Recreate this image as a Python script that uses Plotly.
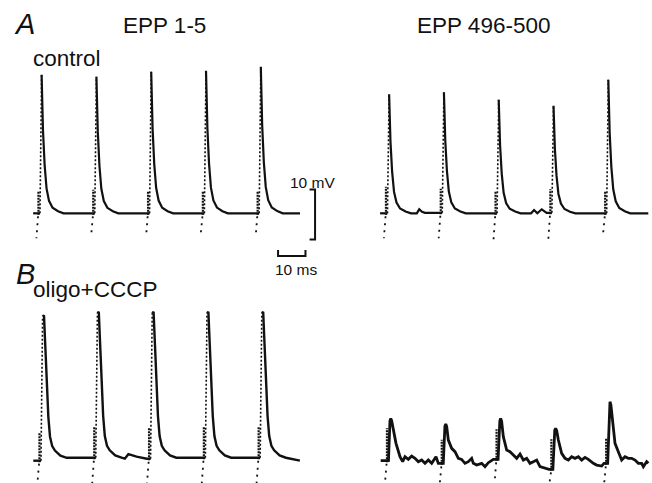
import plotly.graph_objects as go

# ---------------- data (time in ms, voltage in mV relative to rest) ----------------
STIM_MS = [0, 20, 40, 60, 80]
RISE_START_MS = 0.9

# EPP waveform: ms after stimulus, fraction of peak
DECAY_T_CONTROL = [1.5, 2.0, 2.6, 3.3, 4.2, 5.5, 7.5, 9.5]
DECAY_F_CONTROL = [1.0, 0.60, 0.35, 0.18, 0.09, 0.04, 0.015, 0.0]
DECAY_T_OLIGO = [1.5, 2.0, 2.5, 3.0, 3.6, 4.2, 5.0, 6.0, 8.0, 10.3]
DECAY_F_OLIGO = [0.99, 1.0, 0.78, 0.53, 0.30, 0.165, 0.10, 0.07, 0.035, 0.02]

CONTROL_1_5_PEAK = [27.7, 27.3, 28.3, 28.5, 29.3]
CONTROL_496_500_PEAK = [23.8, 24.2, 22.7, 21.5, 26.7]
OLIGO_1_5_PEAK = [29.1, 29.8, 29.8, 29.8, 29.8]

CONTROL_1_5_ART_UP = [4.3, 4.7, 4.3, 4.3, 4.3]
CONTROL_1_5_ART_DOWN = [-5.0, -4.3, -4.8, -4.0, -4.8]
CONTROL_496_500_ART_UP = [5.3, 4.8, 4.5, 4.7, 4.3]
CONTROL_496_500_ART_DOWN = [-5.0, -5.0, -5.3, -5.3, -4.0]
OLIGO_1_5_ART_UP = [5.6, 6.3, 6.1, 6.1, 6.1]
OLIGO_1_5_ART_DOWN = [-4.5, -4.5, -4.5, -4.5, -4.5]
OLIGO_496_500_ART_UP = [6.5, 4.7, 6.0, 6.0, 5.1]
OLIGO_496_500_ART_DOWN = [-4.5, -4.5, -4.5, -4.5, -4.5]

# spontaneous events / baseline deflections
CONTROL_496_500_EXTRA_T = [11.6, 12.5, 13.5, 14.6, 53.3, 54.4, 55.6, 57.2, 59.0]
CONTROL_496_500_EXTRA_V = [0.0, 0.8, 0.3, 0.1, 0.0, 0.66, 0.0, 0.8, 0.1]
OLIGO_1_5_EXTRA_T = [31.5, 32.8, 35.8, 39.5]
OLIGO_1_5_EXTRA_V = [0.4, 1.3, 0.8, 0.4]

# EPP 496-500 in oligo+CCCP, read point by point
OLIGO_LATE_PRE_T = [-1.95, -0.36]
OLIGO_LATE_PRE_V = [0.2, 0.2]
OLIGO_LATE_1_T = [1.45, 1.75, 2.1, 2.68, 3.65, 5.11, 6.08, 6.93, 8.15, 9.37, 10.58, 11.8, 13.02, 14.23, 15.45, 16.67, 18.25, 19.1]
OLIGO_LATE_1_V = [8.2, 8.67, 8.1, 6.33, 3.67, 1.0, 0.0, 1.0, 0.47, 1.13, 0.67, 0.0, 0.33, -0.33, 0.33, -0.33, 1.0, -0.33]
OLIGO_LATE_2_T = [21.5, 21.8, 22.15, 22.75, 23.97, 25.18, 26.4, 27.6, 28.83, 30.05, 31.27, 31.87, 33.09, 34.92, 36.13, 37.35, 39.17]
OLIGO_LATE_2_V = [7.1, 7.53, 7.0, 4.33, 2.67, 2.0, 0.67, 0.47, -0.33, 0.0, 0.67, -0.33, -0.67, -0.33, -1.0, -0.2, 0.47]
OLIGO_LATE_3_T = [41.55, 41.85, 42.2, 42.82, 44.04, 45.26, 46.47, 47.69, 48.91, 50.12, 51.34, 52.55, 53.77, 54.99, 56.2, 58.03, 59.49]
OLIGO_LATE_3_V = [8.2, 8.67, 8.1, 5.0, 2.33, 2.0, 1.33, 0.67, 1.53, 0.33, 0.67, -0.33, 0.0, 0.33, -1.0, -1.33, -1.53]
OLIGO_LATE_4_T = [61.6, 61.92, 62.3, 62.9, 64.11, 65.33, 66.54, 67.76, 68.98, 70.19, 71.41, 72.63, 73.84, 75.67, 76.89, 78.71, 79.56]
OLIGO_LATE_4_V = [6.3, 6.67, 6.2, 4.33, 1.67, 0.67, 0.33, 1.0, 0.67, 1.0, 0.33, 0.87, 0.47, -0.33, -0.67, -0.87, -0.33]
OLIGO_LATE_5_T = [81.45, 81.75, 82.1, 82.73, 83.58, 84.79, 86.01, 87.23, 88.44, 89.66, 90.88, 92.09, 93.31, 93.92, 95.13, 95.74]
OLIGO_LATE_5_V = [11.4, 12.0, 11.3, 7.67, 3.67, 2.0, 0.33, 1.0, 0.67, 0.67, 0.33, -0.33, -0.33, -1.0, 0.0, -0.33]

TRACE_START_MS = [-1.6, -1.8, -1.9, -1.95]
TRACE_END_MS = [95.8, 96.1, 95.4, 95.74]

SCALE_MV = 10
SCALE_MS = 10

# ---------------- layout constants (pixels) ----------------
W, H = 652, 483
PX_PER_MS = 2.74
PX_PER_MV = 5.0
# pixel position of (first stimulus, resting level) for each panel
ORIGINS = [(37.5, 213.3), (385.0, 213.3), (38.5, 460.7), (386.0, 461.7)]
FONT = "Liberation Sans, Arial, sans-serif"


def templ_segments(peaks, dec_t, dec_f, t0, t1, ex_t=(), ex_v=()):
    segs = []
    pre = [(t0, 0.0)] + [(t, v) for t, v in zip(ex_t, ex_v) if t < STIM_MS[0]]
    segs.append(pre)
    for i, s in enumerate(STIM_MS):
        nxt = STIM_MS[i + 1] if i + 1 < len(STIM_MS) else t1 + 1
        pts = [(s + a, peaks[i] * f) for a, f in zip(dec_t, dec_f)]
        pts += [(t, v) for t, v in zip(ex_t, ex_v) if s < t < nxt]
        pts.sort()
        if i == len(STIM_MS) - 1:
            pts.append((t1, 0.0))
        segs.append(pts)
    return segs


def explicit_segments(pairs):
    return [list(zip(t, v)) for t, v in pairs]


def add_panel(fig, k, segs, art_up, art_down, dotted_rise, lw):
    xa = "x" if k == 1 else f"x{k}"
    ya = "y" if k == 1 else f"y{k}"
    sx, sy, rx, ry, bx, by, dx, dy = [], [], [], [], [], [], [], []
    for i, s in enumerate(STIM_MS):
        prev = segs[i]
        lv = prev[-1][1]
        sx += [p[0] for p in prev] + [s + RISE_START_MS]
        sy += [p[1] for p in prev] + [lv]
        nxt = segs[i + 1][0]
        if dotted_rise:
            sx.append(None); sy.append(None)
            rx += [s + RISE_START_MS, nxt[0], None]
            ry += [lv, nxt[1], None]
        bx += [s + 0.35, s + 0.35, None]
        by += [lv - 0.3, lv + art_up[i], None]
        dx += [s + 0.2, s - 0.4, None]
        dy += [lv - 0.6, art_down[i], None]
    last = segs[-1]
    sx += [p[0] for p in last]
    sy += [p[1] for p in last]
    black = "#111111"
    fig.add_trace(go.Scatter(x=sx, y=sy, mode="lines", xaxis=xa, yaxis=ya,
                             line=dict(color=black, width=lw), hoverinfo="skip"))
    if dotted_rise:
        fig.add_trace(go.Scatter(x=rx, y=ry, mode="lines", xaxis=xa, yaxis=ya,
                                 line=dict(color=black, width=1.6, dash="2px,2px"), hoverinfo="skip"))
    fig.add_trace(go.Scatter(x=bx, y=by, mode="lines", xaxis=xa, yaxis=ya,
                             line=dict(color=black, width=2.2, dash="2px,1px"), hoverinfo="skip"))
    fig.add_trace(go.Scatter(x=dx, y=dy, mode="lines", xaxis=xa, yaxis=ya,
                             line=dict(color=black, width=1.8, dash="2px,5px"), hoverinfo="skip"))


fig = go.Figure()

segs_a1 = templ_segments(CONTROL_1_5_PEAK, DECAY_T_CONTROL, DECAY_F_CONTROL,
                         TRACE_START_MS[0], TRACE_END_MS[0])
segs_a2 = templ_segments(CONTROL_496_500_PEAK, DECAY_T_CONTROL, DECAY_F_CONTROL,
                         TRACE_START_MS[1], TRACE_END_MS[1],
                         CONTROL_496_500_EXTRA_T, CONTROL_496_500_EXTRA_V)
segs_b1 = templ_segments(OLIGO_1_5_PEAK, DECAY_T_OLIGO, DECAY_F_OLIGO,
                         TRACE_START_MS[2], TRACE_END_MS[2],
                         OLIGO_1_5_EXTRA_T, OLIGO_1_5_EXTRA_V)
segs_b2 = explicit_segments([
    (OLIGO_LATE_PRE_T, OLIGO_LATE_PRE_V), (OLIGO_LATE_1_T, OLIGO_LATE_1_V),
    (OLIGO_LATE_2_T, OLIGO_LATE_2_V), (OLIGO_LATE_3_T, OLIGO_LATE_3_V),
    (OLIGO_LATE_4_T, OLIGO_LATE_4_V), (OLIGO_LATE_5_T, OLIGO_LATE_5_V)])

add_panel(fig, 1, segs_a1, CONTROL_1_5_ART_UP, CONTROL_1_5_ART_DOWN, True, 2.2)
add_panel(fig, 2, segs_a2, CONTROL_496_500_ART_UP, CONTROL_496_500_ART_DOWN, True, 2.2)
add_panel(fig, 3, segs_b1, OLIGO_1_5_ART_UP, OLIGO_1_5_ART_DOWN, True, 2.4)
add_panel(fig, 4, segs_b2, OLIGO_496_500_ART_UP, OLIGO_496_500_ART_DOWN, False, 2.8)

# scale bars, drawn in panel A (EPP 1-5) coordinates
VBAR_X, VBAR_TOP, VBAR_TICK = 101.3, 4.76, 2.0
HBAR_X, HBAR_Y, HBAR_TICK = 87.8, -8.54, 1.2
fig.add_trace(go.Scatter(
    x=[VBAR_X - VBAR_TICK, VBAR_X, VBAR_X, VBAR_X - VBAR_TICK],
    y=[VBAR_TOP, VBAR_TOP, VBAR_TOP - SCALE_MV, VBAR_TOP - SCALE_MV],
    mode="lines", line=dict(color="#111111", width=2), xaxis="x", yaxis="y", hoverinfo="skip"))
fig.add_trace(go.Scatter(
    x=[HBAR_X, HBAR_X, HBAR_X + SCALE_MS, HBAR_X + SCALE_MS],
    y=[HBAR_Y + HBAR_TICK, HBAR_Y, HBAR_Y, HBAR_Y + HBAR_TICK],
    mode="lines", line=dict(color="#111111", width=2), xaxis="x", yaxis="y", hoverinfo="skip"))

layout = dict(width=W, height=H, margin=dict(l=0, r=0, t=0, b=0),
              paper_bgcolor="white", plot_bgcolor="white", showlegend=False)
for k, (ox, oy) in enumerate(ORIGINS, start=1):
    xr = [(0 - ox) / PX_PER_MS, (W - ox) / PX_PER_MS]
    yr = [(oy - H) / PX_PER_MV, oy / PX_PER_MV]
    xk = "xaxis" if k == 1 else f"xaxis{k}"
    yk = "yaxis" if k == 1 else f"yaxis{k}"
    xd = dict(range=xr, domain=[0, 1], visible=False, fixedrange=True)
    yd = dict(range=yr, domain=[0, 1], visible=False, fixedrange=True)
    if k > 1:
        xd["overlaying"] = "x"
        yd["overlaying"] = "y"
        xd["anchor"] = f"y{k}"
        yd["anchor"] = f"x{k}"
    layout[xk] = xd
    layout[yk] = yd
fig.update_layout(**layout)


def label(text, x, y, size, anchor="left"):
    fig.add_annotation(text=text, x=x / W, y=1 - y / H, xref="paper", yref="paper",
                       xanchor=anchor, yanchor="middle", showarrow=False,
                       font=dict(family=FONT, size=size, color="#111111"))


label("<i>A</i>", 12, 24, 29)
label("EPP 1-5", 121, 26, 22.5)
label("EPP 496-500", 415, 26, 22.5)
label("control", 31, 58, 22.5)
label("10 mV", 288, 182, 15.5)
label("10 ms", 273, 269, 15.5)
label("<i>B</i>", 14, 274, 29)
label("oligo+CCCP", 31, 289, 22.5)

fig.write_html("out.html", config={"displayModeBar": False, "staticPlot": True},
               post_script="document.body.style.margin='0px';document.body.style.overflow='hidden';")
